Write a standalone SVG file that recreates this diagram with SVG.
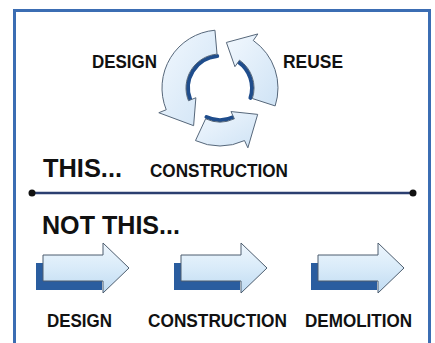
<svg xmlns="http://www.w3.org/2000/svg" width="435" height="343" viewBox="0 0 435 343">
  <defs>
    <linearGradient id="cyc" x1="0" y1="0" x2="1" y2="1">
      <stop offset="0" stop-color="#f2f8fe"/>
      <stop offset="1" stop-color="#cfe3f5"/>
    </linearGradient>
    <linearGradient id="flat" x1="0" y1="0" x2="0" y2="1">
      <stop offset="0" stop-color="#eef6fd"/>
      <stop offset="0.5" stop-color="#d9ebf9"/>
      <stop offset="1" stop-color="#c0dbf2"/>
    </linearGradient>
    <path id="sarrow" d="M0,255 H60 V243 L86,268 L60,293 V281 H0 Z"/>
  </defs>
  <style>
    .lbl { font-family: "Liberation Sans", Arial, sans-serif; font-weight: bold; fill: #111; }
    .sm { font-size: 18px; }
    .lg { font-size: 25px; }
    .cyc { fill: url(#cyc); stroke: #56677a; stroke-width: 1; stroke-linejoin: miter; }
    .rim { fill: none; stroke: #1f4d8c; stroke-width: 4; stroke-linecap: round; }
    .flat { fill: url(#flat); stroke: #4d5d6e; stroke-width: 1; }
    .shadow { fill: #2a5d9f; }
  </style>

  <rect x="0" y="0" width="435" height="343" fill="#ffffff"/>
  <g id="frame">
    <rect x="14.5" y="10.5" width="415" height="340" fill="#ffffff" stroke="#3b6db3" stroke-width="3"/>
  </g>

  <g id="cycle">
    <g id="arrow-design">
      <path class="rim" d="M217.21,56.12 A32,32 0 0 0 190.33,99.99"/>
      <path class="cyc" d="M214.94,30.22 A58,58 0 0 0 166.22,109.73 L158.81,112.72 L193.62,125.68 L195.89,97.74 L188.48,100.74 A34,34 0 0 1 217.04,54.13 Z"/>
    </g>
    <g id="arrow-construction">
      <path class="rim" d="M206.48,117.0 A32,32 0 0 0 233.52,117.0"/>
      <path class="cyc" d="M195.49,140.57 A58,58 0 0 0 244.51,140.57 L247.89,147.82 L257.68,114.38 L230.99,111.56 L234.37,118.81 A34,34 0 0 1 205.63,118.81 Z"/>
    </g>
    <g id="arrow-reuse">
      <path class="rim" d="M250.43,97.89 A32,32 0 0 0 238.35,61.79"/>
      <path class="cyc" d="M275.16,105.92 A58,58 0 0 0 253.27,40.49 L257.86,33.94 L226.40,42.45 L234.91,66.70 L239.50,60.15 A34,34 0 0 1 252.34,98.51 Z"/>
    </g>
  </g>

  <g id="labels-this">
    <text class="lbl sm" x="92" y="68" textLength="65" lengthAdjust="spacingAndGlyphs">DESIGN</text>
    <text class="lbl sm" x="283" y="68" textLength="60" lengthAdjust="spacingAndGlyphs">REUSE</text>
    <text class="lbl sm" x="150" y="177" textLength="138" lengthAdjust="spacingAndGlyphs">CONSTRUCTION</text>
    <text class="lbl lg" x="43" y="177" textLength="79" lengthAdjust="spacingAndGlyphs">THIS...</text>
  </g>

  <g id="divider">
    <line x1="32" y1="193" x2="413" y2="193" stroke="#2b3f70" stroke-width="2.5"/>
    <circle cx="32" cy="193" r="3.5" fill="#111"/>
    <circle cx="413" cy="193" r="3.5" fill="#111"/>
  </g>

  <text class="lbl lg" x="42" y="234" textLength="138" lengthAdjust="spacingAndGlyphs">NOT THIS...</text>

  <g id="linear">
    <g id="lin-design" transform="translate(43,0)">
      <rect class="shadow" x="-7" y="263" width="66" height="27"/>
      <use href="#sarrow" class="flat"/>
    </g>
    <g id="lin-construction" transform="translate(181,0)">
      <rect class="shadow" x="-7" y="263" width="66" height="27"/>
      <use href="#sarrow" class="flat"/>
    </g>
    <g id="lin-demolition" transform="translate(318,0)">
      <rect class="shadow" x="-7" y="263" width="66" height="27"/>
      <use href="#sarrow" class="flat"/>
    </g>
  </g>

  <g id="labels-not">
    <text class="lbl sm" x="47" y="327" textLength="65" lengthAdjust="spacingAndGlyphs">DESIGN</text>
    <text class="lbl sm" x="148" y="327" textLength="139" lengthAdjust="spacingAndGlyphs">CONSTRUCTION</text>
    <text class="lbl sm" x="305" y="327" textLength="107" lengthAdjust="spacingAndGlyphs">DEMOLITION</text>
  </g>
</svg>
